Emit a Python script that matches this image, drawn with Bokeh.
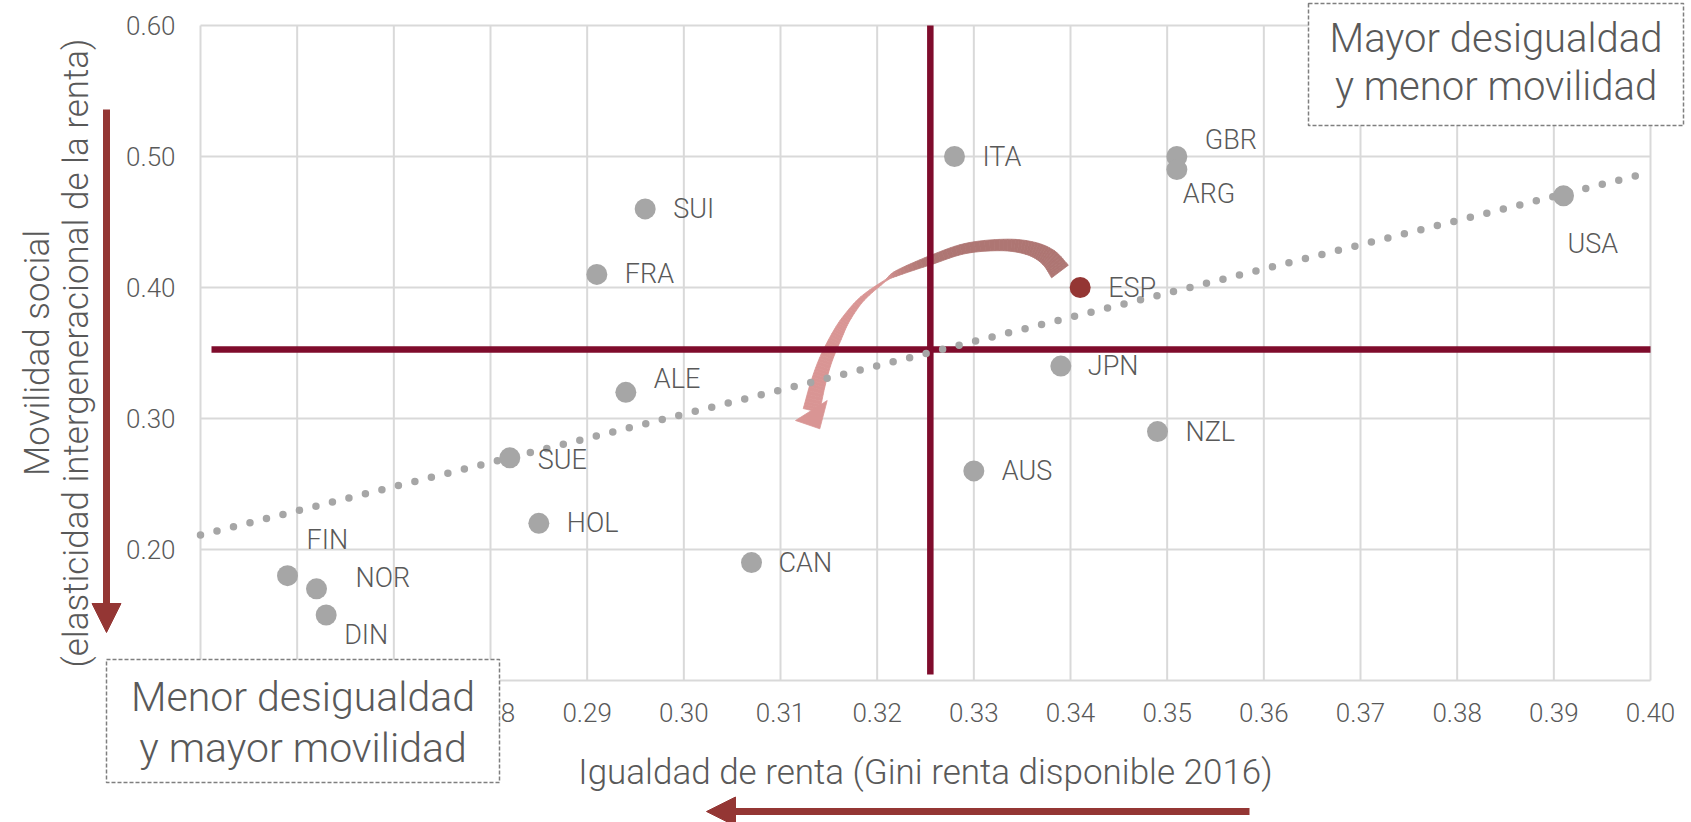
import math
from bokeh.plotting import figure
from bokeh.models import (ColumnDataSource, Label, Arrow, NormalHead, BoxAnnotation,
                          FixedTicker, PrintfTickFormatter, Range1d)
from bokeh.core.properties import value
from bokeh.embed import file_html
from bokeh.resources import INLINE

# ------------------------------------------------------------------ data
countries = ["ITA", "GBR", "ARG", "USA", "SUI", "FRA", "ESP", "JPN", "ALE",
             "NZL", "SUE", "AUS", "HOL", "CAN", "FIN", "NOR", "DIN"]
gini = [0.328, 0.351, 0.351, 0.391, 0.296, 0.291, 0.341, 0.339, 0.294,
        0.349, 0.282, 0.330, 0.285, 0.307, 0.259, 0.262, 0.263]
elasticity = [0.50, 0.50, 0.49, 0.47, 0.46, 0.41, 0.40, 0.34, 0.32,
              0.29, 0.27, 0.26, 0.22, 0.19, 0.18, 0.17, 0.15]
highlight = "ESP"
trend_gini = [0.25, 0.40]
trend_elasticity = [0.211, 0.488]
ref_gini = 0.3255
ref_elasticity = 0.3527
x_ticks = [0.25, 0.26, 0.27, 0.28, 0.29, 0.30, 0.31, 0.32,
           0.33, 0.34, 0.35, 0.36, 0.37, 0.38, 0.39, 0.40]
y_ticks = [0.10, 0.20, 0.30, 0.40, 0.50, 0.60]
x_title = "Igualdad de renta (Gini renta disponible 2016)"
y_title = ["Movilidad social", "(elasticidad intergeneracional de la renta)"]
box_high = ["Mayor desigualdad", "y menor movilidad"]
box_low = ["Menor desigualdad", "y mayor movilidad"]

# ------------------------------------------------------------------ style / layout
FONT = "Roboto Light, Roboto"
TEXT = "#595959"
GRID = "#d9d9d9"
POINT = "#a6a6a6"
HILITE = "#943634"
CROSS = "#7f0c2c"
ARROW = "#943634"
MAUVE = (174, 118, 115)
PINK = (217, 149, 148)
BASELINE_FIX = 0.35   # Bokeh draws "alphabetic" labels a little low; lift by this many em

label_offsets = {"ITA": (28, 0), "GBR": (28, -17), "ARG": (6, 24), "USA": (4, 48),
                 "SUI": (28, 0), "FRA": (28, 0), "ESP": (28, 0), "JPN": (27, 0),
                 "ALE": (28, -13), "NZL": (28, 0), "SUE": (28, 2), "AUS": (28, 0),
                 "HOL": (28, 0), "CAN": (27, 0), "FIN": (19, -36), "NOR": (39, -11),
                 "DIN": (18, 20)}

W, H = 1691, 822
# plot-area margins inside the canvas (the frame covers the whole canvas)
ML, MR, MT, MB = 200, 41, 25, 142
FW, FH = W - ML - MR, H - MT - MB
X0, X1 = x_ticks[0], x_ticks[-1]
Y0, Y1 = y_ticks[0], y_ticks[-1]
PX_X = FW / (X1 - X0)
PX_Y = FH / (Y1 - Y0)


def ref(xr, yr):
    """canvas pixel position (origin top-left) -> data coordinates"""
    return X0 + (xr - ML) / PX_X, Y1 - (yr - MT) / PX_Y


p = figure(width=W, height=H,
           x_range=Range1d(X0 - ML / PX_X, X1 + MR / PX_X),
           y_range=Range1d(Y0 - MB / PX_Y, Y1 + MT / PX_Y),
           output_backend="svg", toolbar_location=None, min_border=0)
p.background_fill_color = "white"
p.border_fill_color = "white"
p.outline_line_color = None
p.grid.visible = False

p.xaxis.fixed_location = Y0
p.yaxis.fixed_location = X0
for ax, ticks in ((p.xaxis, x_ticks), (p.yaxis, y_ticks)):
    ax.ticker = FixedTicker(ticks=ticks)
    ax.formatter = PrintfTickFormatter(format="%.2f")
    ax.axis_line_color = None
    ax.major_tick_line_color = None
    ax.minor_tick_line_color = None
    ax.major_tick_out = 0
    ax.major_tick_in = 0
    ax.major_label_text_font = FONT
    ax.major_label_text_font_size = "26px"
    ax.major_label_text_color = TEXT
p.xaxis.major_label_standoff = 22
p.yaxis.major_label_standoff = 25

# grid lines limited to the plot area
p.segment(x0=x_ticks, y0=[Y0] * len(x_ticks), x1=x_ticks, y1=[Y1] * len(x_ticks),
          line_color=GRID, line_width=2)
p.segment(x0=[X0] * len(y_ticks), y0=y_ticks, x1=[X1] * len(y_ticks), y1=y_ticks,
          line_color=GRID, line_width=2)

# ---------------------------------------------------------- curved arrow (annotation)
curve_ref = [(1059.5, 271), (1048, 257), (1030, 248), (1003, 244.5), (965, 248),
             (930, 259.7), (897, 272.5), (885, 280), (862, 298), (846, 318),
             (836, 336), (825, 360), (817, 385), (811, 410)]
curve_w = [21, 18, 14, 11.5, 10, 9, 5.5, 1.5, 5, 8, 11, 13, 15, 17]
head_ref = [(795, 420), (826.7, 400), (819.3, 428.3)]


def catmull(pts, ws, n=8):
    out, ow, ou = [], [], []
    P = [pts[0]] + pts + [pts[-1]]
    for i in range(1, len(P) - 2):
        p0, p1, p2, p3 = P[i - 1], P[i], P[i + 1], P[i + 2]
        for k in range(n):
            t = k / n
            t2, t3 = t * t, t * t * t
            x = 0.5 * ((2 * p1[0]) + (-p0[0] + p2[0]) * t + (2 * p0[0] - 5 * p1[0] + 4 * p2[0] - p3[0]) * t2
                       + (-p0[0] + 3 * p1[0] - 3 * p2[0] + p3[0]) * t3)
            y = 0.5 * ((2 * p1[1]) + (-p0[1] + p2[1]) * t + (2 * p0[1] - 5 * p1[1] + 4 * p2[1] - p3[1]) * t2
                       + (-p0[1] + 3 * p1[1] - 3 * p2[1] + p3[1]) * t3)
            out.append((x, y))
            ow.append(ws[i - 1] + (ws[i] - ws[i - 1]) * t)
            ou.append(i - 1 + t)
    out.append(pts[-1]); ow.append(ws[-1]); ou.append(len(pts) - 1)
    return out, ow, ou


samples, widths, params = catmull(curve_ref, curve_w)
left_side, right_side = [], []
for i, (x, y) in enumerate(samples):
    a = samples[max(i - 1, 0)]
    b = samples[min(i + 1, len(samples) - 1)]
    dx, dy = b[0] - a[0], b[1] - a[1]
    L = math.hypot(dx, dy) or 1.0
    nx, ny = -dy / L, dx / L
    h = widths[i] / 2
    left_side.append((x + nx * h, y + ny * h))
    right_side.append((x - nx * h, y - ny * h))


def colour_at(u):
    if u <= 5:
        f = 0.0
    elif u >= 7:
        f = 1.0
    else:
        f = (u - 5) / 2
    c = [round(MAUVE[j] + (PINK[j] - MAUVE[j]) * f) for j in range(3)]
    return "#%02x%02x%02x" % tuple(c)


qx, qy, qc = [], [], []
for i in range(len(samples) - 1):
    quad = [left_side[i], left_side[i + 1], right_side[i + 1], right_side[i]]
    d = [ref(*q) for q in quad]
    qx.append([q[0] for q in d])
    qy.append([q[1] for q in d])
    qc.append(colour_at(params[i]))
p.patches(qx, qy, fill_color=qc, line_color=qc, line_width=0.8)
hd = [ref(*q) for q in head_ref]
p.patch([q[0] for q in hd], [q[1] for q in hd], fill_color=colour_at(13), line_color=colour_at(13),
        line_width=0.8)

# ---------------------------------------------------------- reference cross lines
h_start = ref(211, 0)[0]
v_end = ref(0, 674)[1]
p.segment(x0=[h_start], y0=[ref_elasticity], x1=[X1], y1=[ref_elasticity],
          line_color=CROSS, line_width=6.5)
p.segment(x0=[ref_gini], y0=[Y1], x1=[ref_gini], y1=[v_end],
          line_color=CROSS, line_width=6.5)

# ---------------------------------------------------------- trend line
p.line(trend_gini, trend_elasticity, line_color=POINT, line_width=7.5,
       line_dash="0 17", line_cap="round")

# ---------------------------------------------------------- points + labels
src = ColumnDataSource(dict(
    x=gini, y=elasticity, name=countries,
    color=[HILITE if c == highlight else POINT for c in countries],
    dx=[label_offsets[c][0] for c in countries],
    dy=[label_offsets[c][1] for c in countries],
))
p.scatter("x", "y", source=src, size=21, fill_color="color", line_color=None)
p.text("x", "y", text="name", source=src, x_offset="dx", y_offset="dy",
       text_font=value(FONT), text_font_size="27px", text_color=TEXT,
       text_align="left", text_baseline="middle")


def label_at(xr, yr, text, size, **kw):
    pos = ref(xr, yr - BASELINE_FIX * size)
    p.add_layout(Label(x=pos[0], y=pos[1], text=text, text_font=FONT,
                       text_font_size="%dpx" % size, text_color=TEXT, text_align="center",
                       text_baseline="alphabetic", **kw))


# ---------------------------------------------------------- axis titles
label_at(ML + FW / 2, 784, x_title, 35)
for xr, line in zip((37, 76), y_title):
    pos = ref(xr, 0)
    p.add_layout(Label(x=pos[0], y=(Y0 + Y1) / 2, text=line, angle=math.pi / 2,
                       text_font=FONT, text_font_size="35px", text_color=TEXT,
                       text_align="center", text_baseline="middle"))

# ---------------------------------------------------------- direction arrows
a0 = ref(106, 109)
a1 = ref(106, 632)
p.add_layout(Arrow(x_start=a0[0], y_start=a0[1], x_end=a1[0], y_end=a1[1],
                   line_color=ARROW, line_width=7,
                   end=NormalHead(size=29, fill_color=ARROW, line_color=ARROW, line_width=1)))
b0 = ref(1249, 811)
b1 = ref(706, 811)
p.add_layout(Arrow(x_start=b0[0], y_start=b0[1], x_end=b1[0], y_end=b1[1],
                   line_color=ARROW, line_width=7,
                   end=NormalHead(size=29, fill_color=ARROW, line_color=ARROW, line_width=1)))


# ---------------------------------------------------------- quadrant boxes
def text_box(l, t, r, b, lines, baselines, size):
    tl = ref(l, t)
    br = ref(r, b)
    p.add_layout(BoxAnnotation(left=tl[0], right=br[0], top=tl[1], bottom=br[1],
                               fill_color="white", fill_alpha=1.0, line_color="#7f7f7f",
                               line_alpha=1.0, line_width=1.5, line_dash="4 2",
                               level="overlay"))
    for line, by in zip(lines, baselines):
        label_at((l + r) / 2, by, line, size, level="overlay")


text_box(1308, 3, 1683, 125, box_high, (52, 100), 40)
text_box(106, 659, 499, 782, box_low, (711, 762), 41)

open("out.html", "w").write(file_html(p, INLINE))
